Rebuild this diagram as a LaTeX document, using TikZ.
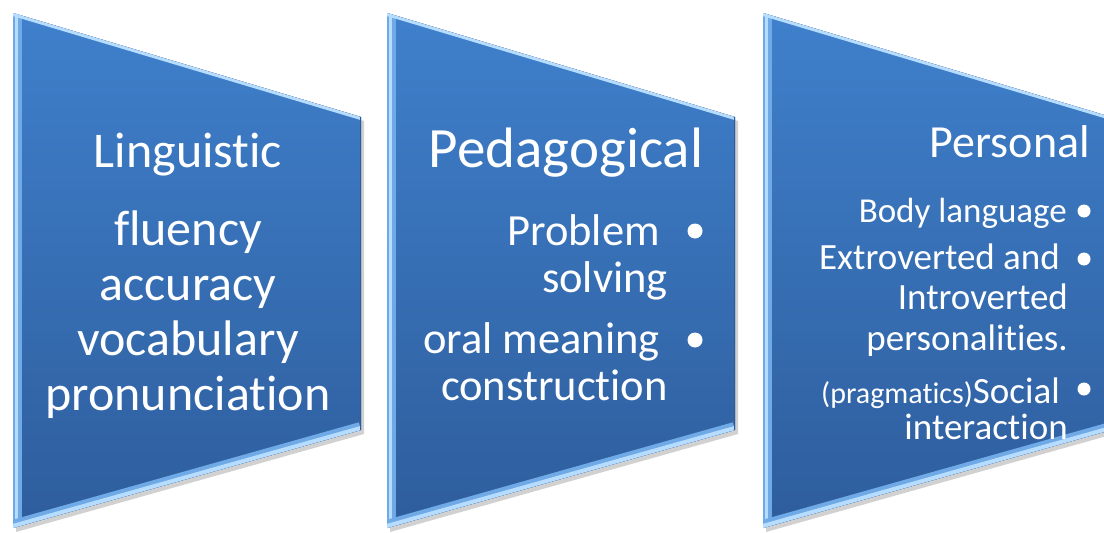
\documentclass[tikz,border=0pt]{standalone}
\usepackage{fontspec}
\setmainfont{Carlito}[Ligatures=NoCommon]
\usepackage{xcolor}

\definecolor{boxtop}{HTML}{3F80CC}
\definecolor{boxbot}{HTML}{2E5D9C}
\definecolor{rimmid}{HTML}{6FA9E6}
\definecolor{rimhi}{HTML}{B6DDFF}
\definecolor{rimdark}{HTML}{2F5C98}

\begin{document}
\begin{tikzpicture}[x=1pt,y=-1pt,
		panel/.style={top color=boxtop,bottom color=boxbot},
		head/.style={text=white,inner sep=0pt,anchor=base},
		body/.style={text=white,inner sep=0pt,anchor=base east,align=right},
		dot/.style={circle,fill=white,inner sep=0pt,minimum size=#1},
		dot/.default=12pt]
			\clip (0,0) rectangle (1104,533);
			
			% the three panels
			\foreach \x in {13,387,763}{
				\fill[black,opacity=.18,shift={(3,4)}] (\x,13) -- (\x+348,117) -- (\x+348,430) -- (\x,528) -- cycle;
				\begin{scope}
					\clip (\x,13) -- (\x+348,117) -- (\x+348,430) -- (\x,528) -- cycle;
					\fill[panel] (\x,13) rectangle (\x+348,528);
					\draw[line width=18,rimmid] (\x,528) -- (\x,13);
					\draw[line width=10,rimhi] (\x,528) -- (\x,13);
					\draw[line width=3,rimmid] (\x,528) -- (\x,13);
					\draw[line width=6,rimhi] (\x,13) -- (\x+348,117);
					\draw[line width=16,rimmid] (\x,528) -- (\x+348,430);
					\draw[line width=8,rimhi] (\x,528) -- (\x+348,430);
					\draw[line width=2,rimdark] (\x+348,117) -- (\x+348,430);
				\end{scope}
			}
			
			% Linguistic (multi-line nodes sit on their last baseline)
			\node[head,font=\fontsize{50}{55}\selectfont] (ling) at (188,167) {Linguistic};
			\node[head,align=center,font=\fontsize{50}{55}\selectfont] (lingtxt) at (188,410) {fluency\\accuracy\\vocabulary\\pronunciation};
			
			% Pedagogical
			\node[head,font=\fontsize{57}{60}\selectfont] (peda) at (566,167) {Pedagogical};
			\node[body,font=\fontsize{44.5}{47}\selectfont] (prob) at (668,292) {Problem\hspace*{8pt}\\solving};
			\node[body,font=\fontsize{44.5}{47}\selectfont] (oral) at (668,400) {oral meaning\hspace*{8pt}\\construction};
			\node[dot=15pt] (probdot) at (695,231) {};
			\node[dot=15pt] (oraldot) at (695,340) {};
			
			% Personal
			\node[head,anchor=base east,font=\fontsize{46}{50}\selectfont] (pers) at (1090,157) {Personal};
			\node[body,font=\fontsize{35}{40}\selectfont] (bodyl) at (1067,222) {Body language};
			\node[body,font=\fontsize{37}{40.5}\selectfont] (extro) at (1068,350) {Extroverted and\hspace*{8pt}\\Introverted\\personalities.};
			\node[body,font=\fontsize{37}{36}\selectfont] (social) at (1068,439) {{\fontsize{30}{36}\selectfont(pragmatics)}Social\hspace*{8pt}\\interaction};
			\node[dot=13pt] (bodydot) at (1084,211) {};
			\node[dot=13pt] (extrodot) at (1084,259) {};
			\node[dot=13pt] (socialdot) at (1084,389) {};
		\end{tikzpicture}
\end{document}
